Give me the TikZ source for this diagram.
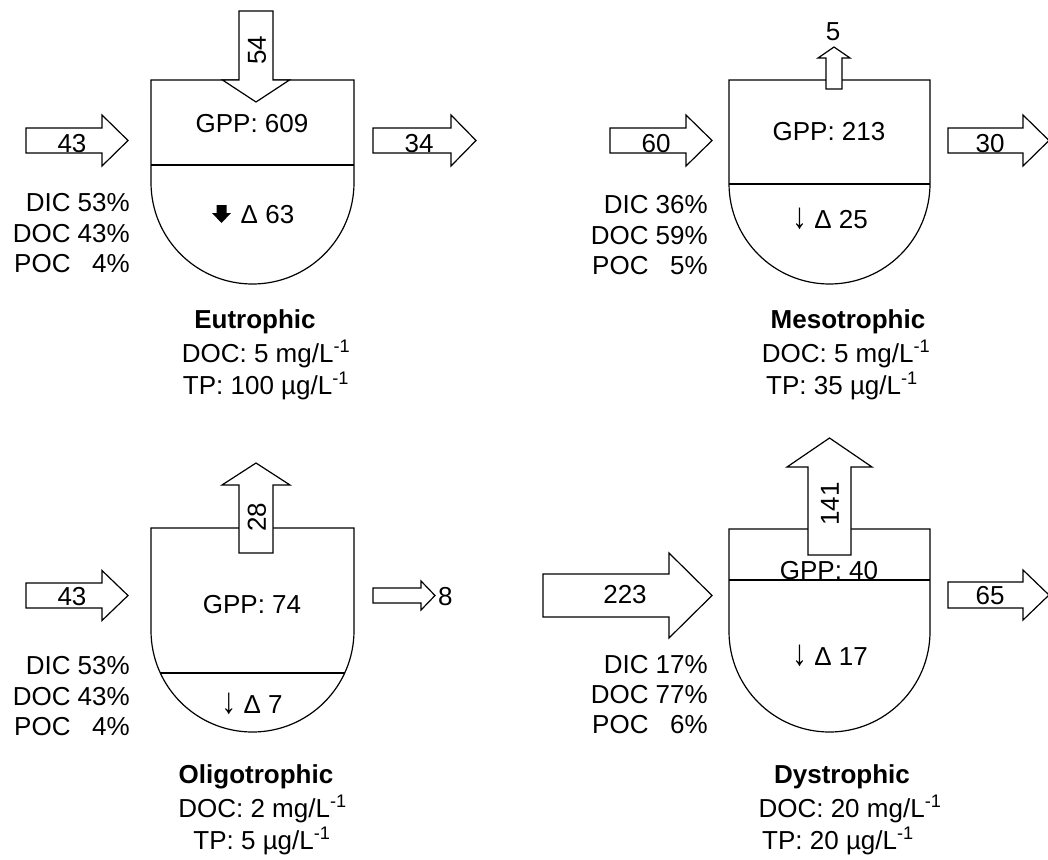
\documentclass[tikz,border=0pt]{standalone}
\usepackage{fontspec}
\setmainfont{Liberation Sans}
\usepackage{tikz}
\usetikzlibrary{calc}

\tikzset{
  flow/.style={draw=black, fill=white, line width=1.2pt},
  basin/.style={draw=black, fill=white, line width=1.2pt},
  lbl/.style={inner sep=0pt, anchor=base, font=\fontsize{26}{30}\selectfont},
  share/.style={inner sep=0pt, anchor=base east, font=\fontsize{26}{30}\selectfont},
  vlbl/.style={inner sep=0pt, rotate=90, font=\fontsize{26}{30}\selectfont},
  trophic/.style={lbl, font=\fontsize{26}{30}\selectfont\bfseries},
}
\newcommand{\sinkarrow}{\scalebox{1.15}[1.4]{↓}}

% lake outline: left, right, top, bottom
\newcommand{\drawlake}[4]{%
  \draw[basin] (#1,#3) -- (#1,{#4-(#2-#1)/2})
    arc[start angle=180, end angle=0, radius={(#2-#1)/2}] -- (#2,#3) -- cycle;}
% horizontal block arrow: x start, head base, tip, y centre, shaft half, head half
\newcommand{\blockH}[6]{%
  \draw[flow] (#1,{#4-#5}) -- (#2,{#4-#5}) -- (#2,{#4-#6}) -- (#3,#4)
    -- (#2,{#4+#6}) -- (#2,{#4+#5}) -- (#1,{#4+#5}) -- cycle;}
% vertical block arrow: x centre, y start, head base, tip, shaft half, head half
\newcommand{\blockV}[6]{%
  \draw[flow] ({#1-#5},#2) -- ({#1-#5},#3) -- ({#1-#6},#3) -- (#1,#4)
    -- ({#1+#6},#3) -- ({#1+#5},#3) -- ({#1+#5},#2) -- cycle;}

\begin{document}
\begin{tikzpicture}[x=1pt, y=-1pt]
  \useasboundingbox (0,0) rectangle (1048,859);

  % Eutrophic
  \drawlake{151}{354}{80}{284}
  \draw[line width=1.2pt] (151,165) -- (354,165);
  \blockV{256}{11}{80}{102}{17}{33.5}
  \blockH{26}{102}{128}{140.5}{12.5}{25.5}
  \blockH{373}{451}{476}{140.5}{12.5}{25.5}
  \node[vlbl] (topEu) at (257,50) {54};
  \node[lbl] (inEu) at (72,152) {43};
  \node[lbl] (outEu) at (419,152) {34};
  \node[lbl] (gppEu) at (252,132) {GPP: 609};
  \fill (216.5,205) -- (226.5,205) -- (226.5,213) -- (231,213) -- (221.5,223)
    -- (212,213) -- (216.5,213) -- cycle;
  \node[lbl] (lossEu) at (267.5,223) {Δ 63};
  \node[share] (dicEu) at (130,211) {DIC 53\%};
  \node[share] (docEu) at (130,242) {DOC 43\%};
  \node[share] (pocEu) at (130,272) {POC \hphantom{0}4\%};
  \node[trophic] (nameEu) at (255,328) {Eutrophic};
  \node[lbl] (concEu) at (266,362) {DOC: 5 mg/L\textsuperscript{-1}};
  \node[lbl] (tpEu) at (266,394) {TP: 100 µg/L\textsuperscript{-1}};

  % Mesotrophic
  \drawlake{729}{930}{80}{284}
  \draw[line width=1.2pt] (729,184) -- (930,184);
  \blockV{834}{89}{58}{47}{8}{16}
  \blockH{610}{686}{712}{140.5}{12.5}{25.5}
  \blockH{948}{1023}{1049}{140.5}{12.5}{25.5}
  \node[lbl] (topMe) at (833,41) {5};
  \node[lbl] (inMe) at (656,152) {60};
  \node[lbl] (outMe) at (990,152) {30};
  \node[lbl] (gppMe) at (829,140) {GPP: 213};
  \node[lbl] (lossMe) at (830,228) {\sinkarrow{} Δ 25};
  \node[share] (dicMe) at (708,213) {DIC 36\%};
  \node[share] (docMe) at (708,244) {DOC 59\%};
  \node[share] (pocMe) at (708,274) {POC \hphantom{0}5\%};
  \node[trophic] (nameMe) at (848,328) {Mesotrophic};
  \node[lbl] (concMe) at (846,362) {DOC: 5 mg/L\textsuperscript{-1}};
  \node[lbl] (tpMe) at (842,394) {TP: 35 µg/L\textsuperscript{-1}};

  % Oligotrophic
  \drawlake{151}{354}{528}{732}
  \draw[line width=1.2pt] (160.3,673) -- (344.7,673);
  \blockV{256}{553}{485}{463}{17}{34}
  \blockH{26}{102}{128}{595.5}{12.5}{25}
  \blockH{373}{421}{435}{595.5}{7.5}{14.5}
  \node[vlbl] (topOl) at (257,517) {28};
  \node[lbl] (inOl) at (72,605) {43};
  \node[lbl, anchor=base west] (outOl) at (438,605) {8};
  \node[lbl] (gppOl) at (252,613) {GPP: 74};
  \node[lbl] (lossOl) at (252,713) {\sinkarrow{} Δ 7};
  \node[share] (dicOl) at (130,674) {DIC 53\%};
  \node[share] (docOl) at (130,705) {DOC 43\%};
  \node[share] (pocOl) at (130,735) {POC \hphantom{0}4\%};
  \node[trophic] (nameOl) at (256,783) {Oligotrophic};
  \node[lbl] (concOl) at (262.5,817) {DOC: 2 mg/L\textsuperscript{-1}};
  \node[lbl] (tpOl) at (262,849) {TP: 5 µg/L\textsuperscript{-1}};

  % Dystrophic
  \drawlake{729}{930}{529}{732}
  \draw[line width=1.2pt] (729,580) -- (930,580);
  \blockV{829.5}{555}{467}{438}{21.5}{42.5}
  \blockH{543}{669}{712}{595.5}{21.5}{42.5}
  \blockH{948}{1023}{1049}{595}{13}{25}
  \node[vlbl] (topDy) at (830,504) {141};
  \node[lbl] (inDy) at (625,603) {223};
  \node[lbl] (outDy) at (990,604) {65};
  \node[lbl] (gppDy) at (829,579) {GPP: 40};
  \node[lbl] (lossDy) at (830,665) {\sinkarrow{} Δ 17};
  \node[share] (dicDy) at (708,673) {DIC 17\%};
  \node[share] (docDy) at (708,703) {DOC 77\%};
  \node[share] (pocDy) at (708,733) {POC \hphantom{0}6\%};
  \node[trophic] (nameDy) at (842,783) {Dystrophic};
  \node[lbl] (concDy) at (850,817) {DOC: 20 mg/L\textsuperscript{-1}};
  \node[lbl] (tpDy) at (838,849) {TP: 20 µg/L\textsuperscript{-1}};
\end{tikzpicture}
\end{document}
